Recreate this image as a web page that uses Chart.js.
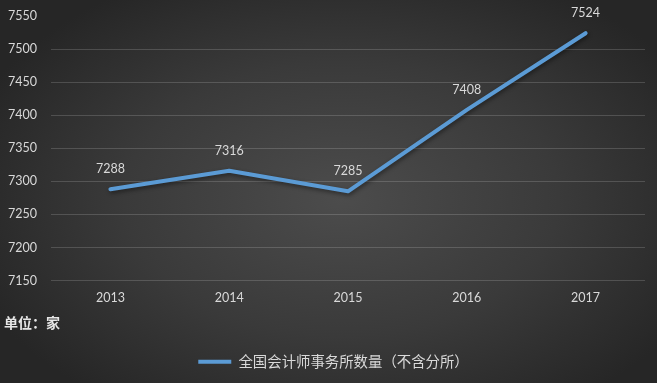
<!DOCTYPE html>
<html>
<head>
<meta charset="utf-8">
<script src="https://cdn.jsdelivr.net/npm/chart.js@4"></script>
<style>
html,body{margin:0;padding:0;width:657px;height:383px;overflow:hidden;}
body{background:radial-gradient(ellipse 60% 65% at 52% 52%, #4c4c4c 0%, #3a3a3a 55%, #262626 100%);position:relative;}
#wrap{position:absolute;left:0;top:0;width:657px;height:383px;}
#unit{position:absolute;left:4px;top:312px;font-family:"Noto Sans CJK SC",sans-serif;font-weight:bold;font-size:14px;color:#e6e6e6;line-height:20px;}
</style>
</head>
<body>
<div id="wrap"><canvas id="c" width="657" height="383"></canvas></div>
<div id="unit">单位：家</div>
<script>
const categories = ["2013","2014","2015","2016","2017"];
const firmCounts = [7288, 7316, 7285, 7408, 7524];
const seriesName = "全国会计师事务所数量（不含分所）";
const yTicks = [7150, 7200, 7250, 7300, 7350, 7400, 7450, 7500, 7550];

const numFont = "Lato, 'Liberation Sans', sans-serif";
const cjkFont = "'Noto Sans CJK SC', sans-serif";
const textColor = "#d9d9d9";

const labelPlugin = {
  id: 'valueLabels',
  afterDatasetsDraw(chart) {
    const ctx = chart.ctx;
    const meta = chart.getDatasetMeta(0);
    ctx.save();
    ctx.font = "12.5px " + numFont;
    ctx.fillStyle = textColor;
    ctx.textAlign = 'center';
    ctx.textBaseline = 'middle';
    meta.data.forEach((pt, i) => {
      ctx.fillText(String(chart.data.datasets[0].data[i]), pt.x, pt.y - 20);
    });
    ctx.restore();
  }
};
const shadowPlugin = {
  id: 'lineShadow',
  beforeDatasetDraw(chart) {
    const ctx = chart.ctx;
    ctx.save();
    ctx.shadowColor = 'rgba(0,0,0,0.45)';
    ctx.shadowBlur = 4;
    ctx.shadowOffsetX = 1;
    ctx.shadowOffsetY = 2;
  },
  afterDatasetDraw(chart) { chart.ctx.restore(); }
};
const legendShift = {
  id: 'legendShift',
  afterLayout(chart) {
    if (chart.legend) { chart.legend.left += 11; chart.legend.right += 11; }
  }
};

new Chart(document.getElementById('c'), {
  type: 'line',
  data: {
    labels: categories,
    datasets: [{
      label: seriesName,
      data: firmCounts,
      borderColor: '#5b9bd5',
      backgroundColor: '#5b9bd5',
      borderWidth: 4,
      pointRadius: 0,
      pointHoverRadius: 0,
      tension: 0,
      borderCapStyle: 'round',
      borderJoinStyle: 'round'
    }]
  },
  options: {
    responsive: false,
    animation: false,
    layout: { padding: { top: 16, right: 12, bottom: 4, left: 0 } },
    plugins: {
      tooltip: { enabled: false },
      legend: {
        position: 'bottom',
        labels: {
          color: textColor,
          font: { family: cjkFont, size: 14.4 },
          boxWidth: 33,
          boxHeight: 4,
          padding: 10,
          generateLabels(chart) {
            const ds = chart.data.datasets[0];
            return [{ text: ds.label, fillStyle: ds.borderColor, strokeStyle: ds.borderColor, lineWidth: 0, fontColor: textColor, datasetIndex: 0 }];
          }
        }
      }
    },
    scales: {
      x: {
        offset: true,
        grid: { display: false, drawTicks: false },
        border: { display: false },
        ticks: { color: textColor, font: { family: numFont, size: 12.5 }, padding: 10 },
        afterFit(s) { s.height = 64; s.paddingLeft = 0; s.paddingRight = 0; }
      },
      y: {
        min: 7150,
        max: 7550,
        afterBuildTicks(s) { s.ticks = yTicks.map(v => ({ value: v })); },
        grid: {
          drawTicks: false,
          color(ctx) { return ctx.tick && ctx.tick.value === 7550 ? 'rgba(0,0,0,0)' : 'rgba(255,255,255,0.16)'; },
          lineWidth: 1
        },
        border: { display: false },
        ticks: { color: textColor, font: { family: numFont, size: 12.5 }, padding: 14, callback: v => String(v) },
        afterFit(s) { s.width = 51; s.paddingTop = 0; s.paddingBottom = 0; }
      }
    }
  },
  plugins: [shadowPlugin, labelPlugin, legendShift]
});
</script>
</body>
</html>
